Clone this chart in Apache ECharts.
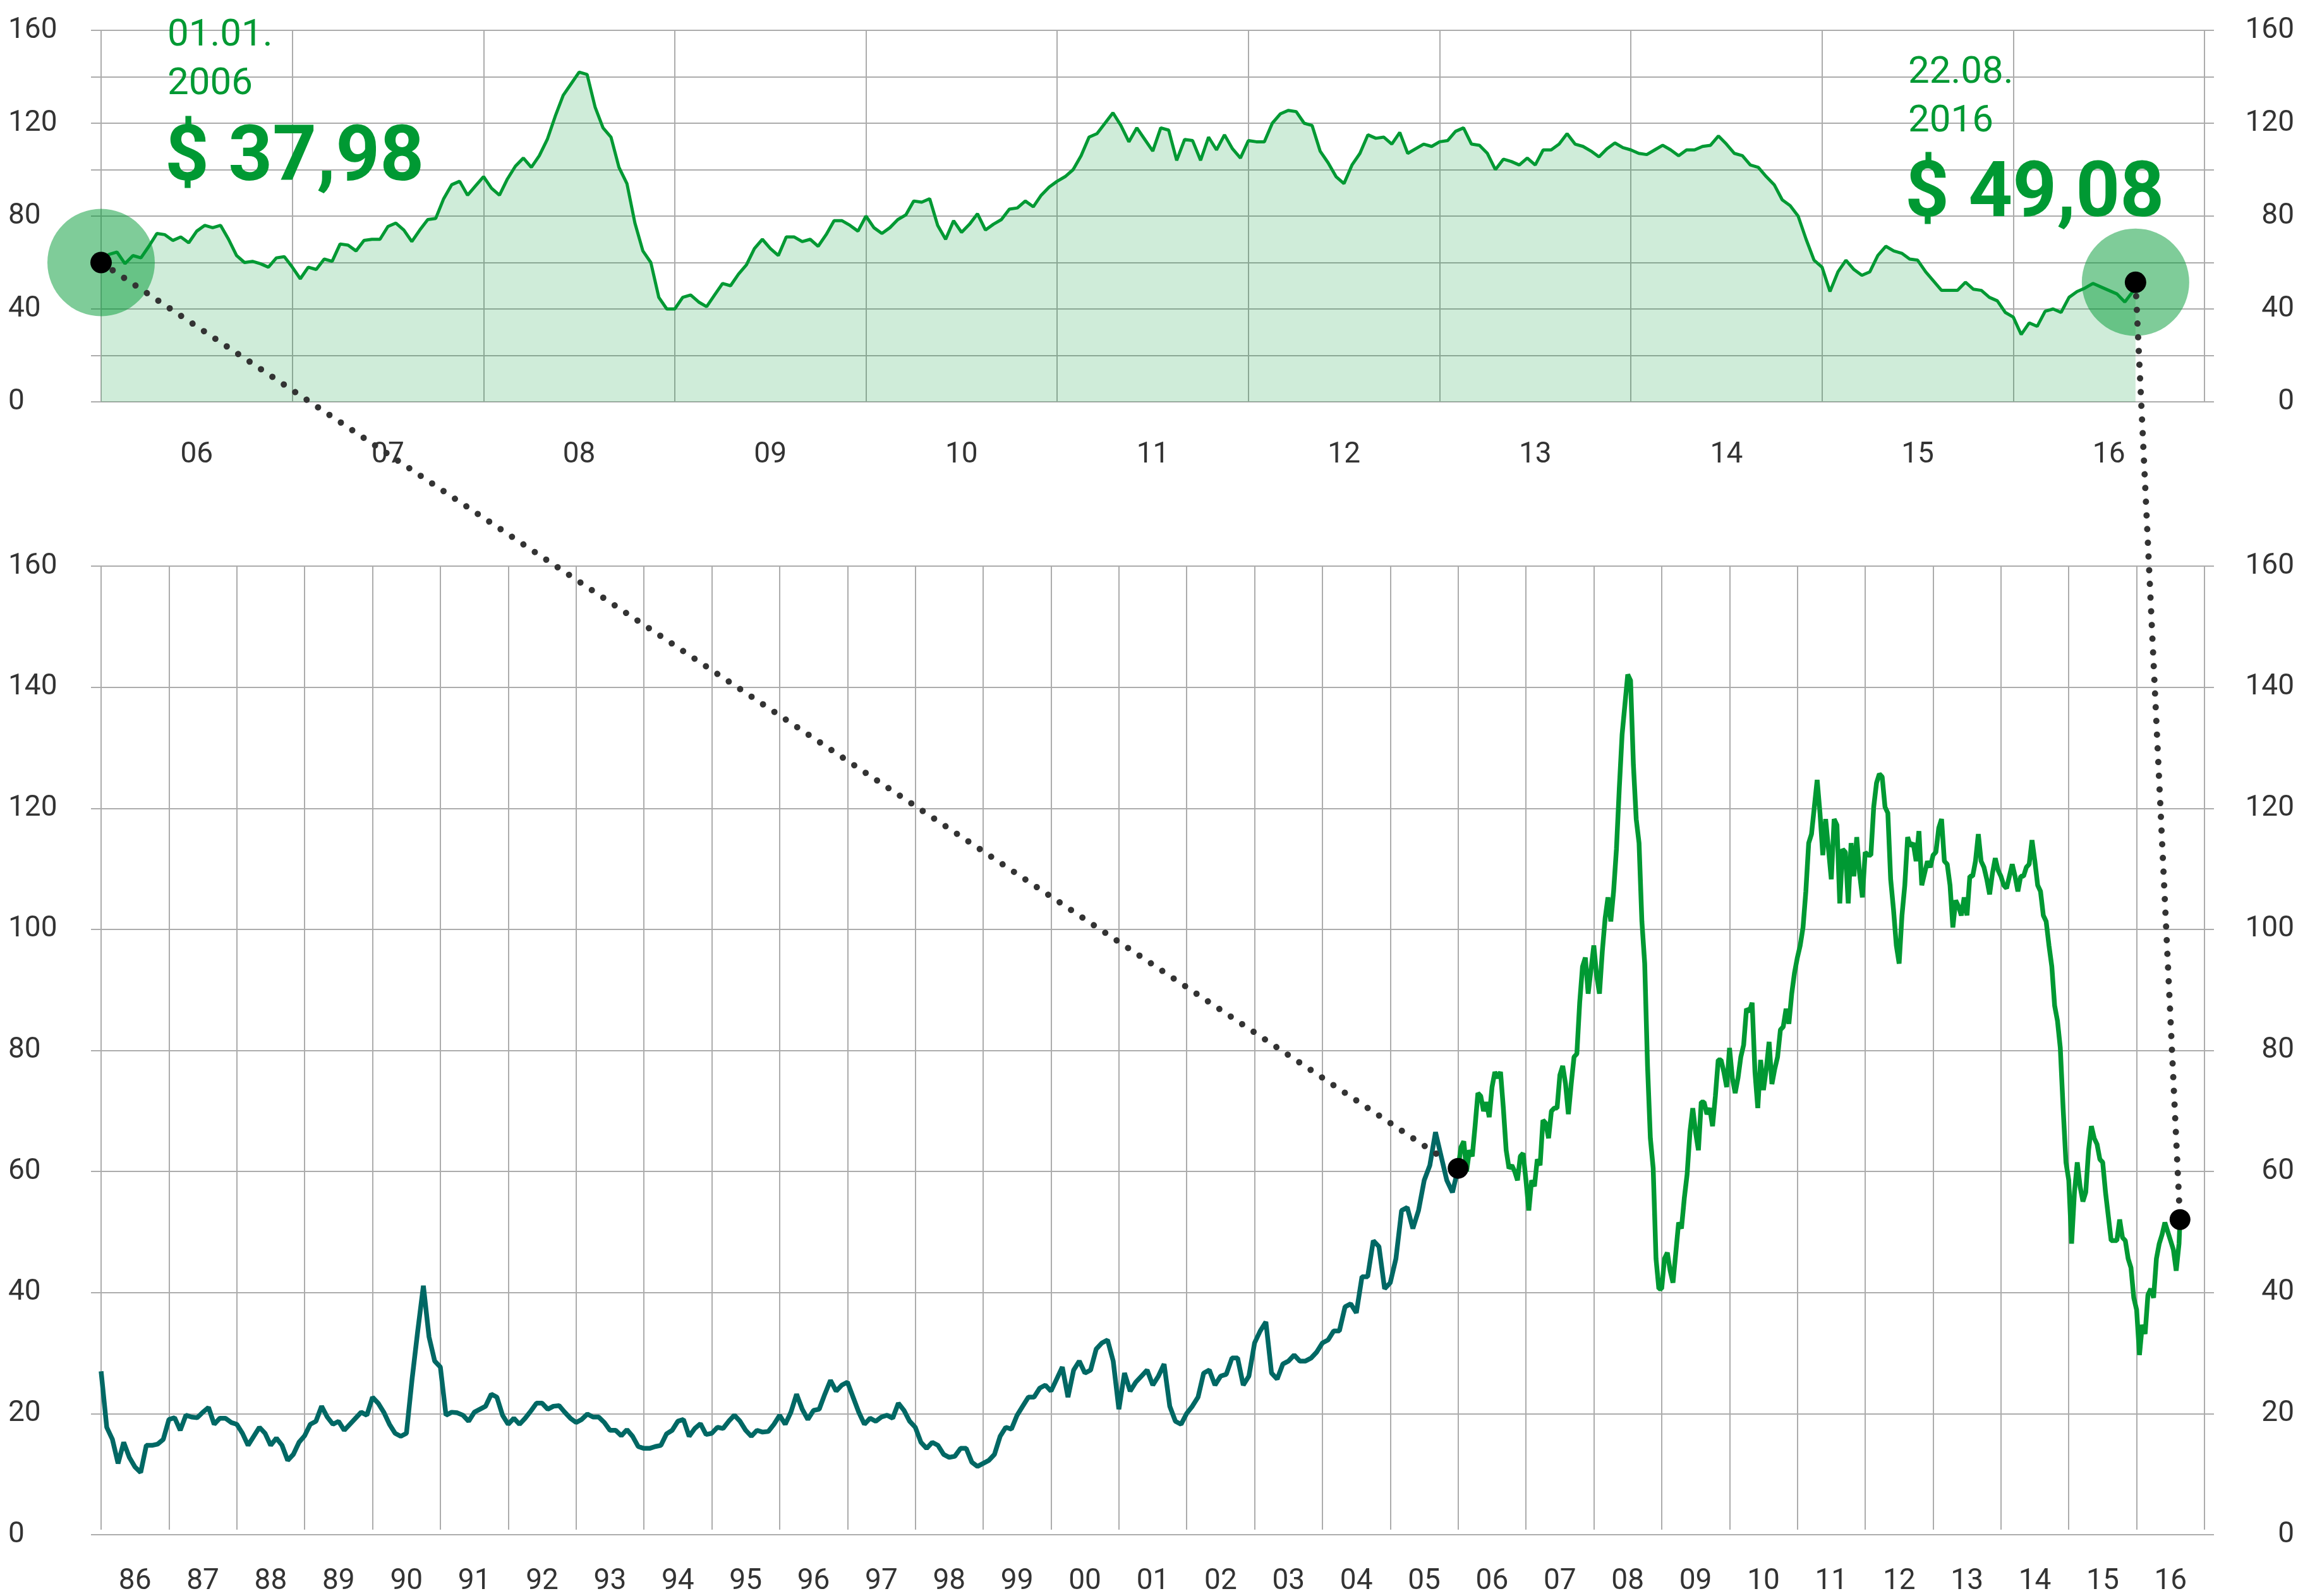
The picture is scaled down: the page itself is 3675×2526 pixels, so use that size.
<!DOCTYPE html>
<html>
<head>
<meta charset="utf-8">
<script src="https://cdn.jsdelivr.net/npm/echarts@6/dist/echarts.min.js"></script>
<style>
html, body { margin: 0; padding: 0; background: #fff; }
#chart { width: 3675px; height: 2526px; }
</style>
</head>
<body>
<div id="chart"></div>
<script>
// tick labels
var topYears = ['06','07','08','09','10','11','12','13','14','15','16'];
var bottomYears = ['86','87','88','89','90','91','92','93','94','95','96','97','98','99','00','01','02','03','04','05','06','07','08','09','10','11','12','13','14','15','16'];
var topTicks = [0, 40, 80, 120, 160];

// annotated dates / prices
var startDate = '01.01.2006', startPrice = '$ 37,98';
var endDate = '22.08.2016', endPrice = '$ 49,08';

// oil price, start of each month 1986-2005 (teal part)
var oil1986 = [26.3, 17, 15, 11, 14.5, 12, 10.4, 9.5, 14, 14, 14.2, 15];
var oil1987 = [18.3, 18.6, 16.5, 19, 18.7, 18.6, 19.5, 20.3, 17.5, 18.5, 18.5, 17.8];
var oil1988 = [17.5, 16, 14, 15.5, 17, 16, 14, 15.2, 14, 11.5, 12.5, 14.5];
var oil1989 = [15.6, 17.5, 18, 20.5, 18.7, 17.5, 18, 16.5, 17.5, 18.5, 19.5, 19];
var oil1990 = [22, 21, 19.5, 17.5, 16, 15.5, 16, 25, 33, 40.5, 32, 28];
var oil1991 = [27, 19, 19.5, 19.4, 19, 18, 19.5, 20, 20.5, 22.5, 22, 19];
var oil1992 = [17.5, 18.5, 17.5, 18.5, 19.7, 21, 21, 20, 20.5, 20.6, 19.5, 18.5];
var oil1993 = [17.8, 18.3, 19.2, 18.7, 18.7, 17.8, 16.5, 16.5, 15.6, 16.6, 15.5, 13.8];
var oil1994 = [13.5, 13.5, 13.8, 14, 15.9, 16.5, 18, 18.3, 15.5, 16.8, 17.6, 15.8];
var oil1995 = [16, 17, 16.8, 18, 19, 18, 16.5, 15.5, 16.5, 16.2, 16.3, 17.5];
var oil1996 = [19, 17.5, 19.5, 22.5, 20, 18.3, 19.8, 20, 22.5, 24.8, 23, 24];
var oil1997 = [24.5, 22, 19.5, 17.5, 18.5, 18, 18.7, 19, 18.5, 21, 19.8, 18];
var oil1998 = [17, 14.5, 13.5, 14.5, 14, 12.5, 12, 12.2, 13.5, 13.5, 11.2, 10.5];
var oil1999 = [11, 11.5, 12.5, 15.5, 17, 16.7, 19, 20.5, 22, 22, 23.5, 24];
var oil2000 = [23, 25, 27, 22, 26.5, 28, 26, 26.5, 30, 31, 31.5, 28];
var oil2001 = [20, 26, 23, 24.5, 25.5, 26.5, 24, 25.5, 27.5, 20.5, 18, 17.5];
var oil2002 = [19.3, 20.5, 22, 26, 26.5, 24, 25.5, 25.8, 28.5, 28.5, 24, 25.5];
var oil2003 = [31, 33, 34.5, 26, 25, 27.5, 28, 29, 28, 28, 28.5, 29.5];
var oil2004 = [31, 31.5, 33, 33, 37, 37.5, 36, 42, 42, 48, 47, 40];
var oil2005 = [41, 45, 53, 53.5, 50, 53, 58, 60.5, 66, 62, 58, 56];

// oil price, 1st and 15th of each month 2006-2016 (green part)
var oil2006 = [60, 63.5, 64.5, 59.5, 63, 62, 67, 72.5, 72, 69.5, 71, 68.5, 73.5, 76, 75, 76, 70, 63, 60, 60.5, 59.5, 58, 62, 62.5];
var oil2007 = [58, 53, 58, 57, 61.5, 60.5, 68, 67.5, 65, 69.5, 70, 70, 75.5, 77, 74, 69, 74, 78.5, 79, 87.5, 93.5, 95, 89, 93];
var oil2008 = [97, 92, 89, 96, 101.5, 105, 101, 106, 113, 123, 132, 137, 142, 141, 127, 118, 114, 101, 94, 77, 65, 60, 45, 40];
var oil2009 = [40, 45, 46, 43, 41, 46, 51, 50, 55, 59, 66, 70, 66, 63, 71, 71, 69, 70, 67, 72, 78, 78, 76, 73.5];
var oil2010 = [80, 75, 72.5, 75, 78.5, 80.5, 86.5, 86, 87.5, 76, 70, 78, 73, 76.5, 81, 74, 76.5, 78.5, 83, 83.5, 86.5, 84, 89, 92.5];
var oil2011 = [95, 97, 100, 106, 114, 115.5, 120, 124.5, 119, 112, 118, 113, 108, 118, 117, 104, 113, 112.5, 104, 114, 108.5, 115, 109, 105];
var oil2012 = [112.5, 112, 112, 120, 124, 125.5, 125, 120, 119, 108, 103, 97, 94, 102, 107, 115, 113.5, 114, 111, 116, 107, 109, 111, 110];
var oil2013 = [112, 112.5, 116.5, 118, 111, 110.5, 107, 100, 104.5, 103.5, 102, 105, 102, 108.5, 108.5, 111, 115.5, 111, 110, 108, 105.5, 109, 111.5, 109.5];
var oil2014 = [108.5, 107, 106.5, 108.5, 110.5, 108.5, 106, 108.5, 108.5, 110, 110.5, 114.5, 111, 107, 106, 102, 101, 97, 93.5, 87, 84.5, 80, 70, 61];
var oil2015 = [58, 47.5, 56, 61, 57, 54.5, 56, 63, 67, 65, 64, 61.5, 61, 56, 52, 48, 48, 48, 51.5, 48.5, 48, 45, 43.5, 38.5];
var oil2016 = [36.5, 29, 34, 32.5, 39, 40, 38.5, 45, 47.5, 49, 51, 49.5, 48, 46.5, 43, 47.5];
var lastPrice = 51.5; // 22.08.2016

function toYear(d) { // 'dd.mm.yyyy' -> decimal year
	var p = d.split('.');
	var y = +p[2];
	var t0 = Date.UTC(y, 0, 1), t1 = Date.UTC(y + 1, 0, 1);
	return y + (Date.UTC(y, +p[1] - 1, +p[0]) - t0) / (t1 - t0);
}

var tealVals = [].concat(oil1986, oil1987, oil1988, oil1989, oil1990, oil1991, oil1992, oil1993, oil1994, oil1995,
	oil1996, oil1997, oil1998, oil1999, oil2000, oil2001, oil2002, oil2003, oil2004, oil2005);
var greenVals = [].concat(oil2006, oil2007, oil2008, oil2009, oil2010, oil2011, oil2012, oil2013, oil2014, oil2015, oil2016);

var startYear = toYear(startDate), endYear = toYear(endDate);
var tealPts = tealVals.map(function (v, i) { return [1986 + i / 12, v]; });
var greenPts = greenVals.map(function (v, i) { return [startYear + i / 24, v]; });
greenPts.push([endYear, lastPrice]);
tealPts.push(greenPts[0]); // join to green
var marks = [greenPts[0], greenPts[greenPts.length - 1]];

var green = '#009933';
var gridLine = { color: '#acacac', width: 2 };
var lbl = { fontFamily: 'Roboto', fontSize: 46, color: '#333' };

function yLabel(side, fmt) {
	return {
		fontFamily: lbl.fontFamily, fontSize: lbl.fontSize, color: lbl.color,
		align: side == 'left' ? 'left' : 'right',
		margin: side == 'left' ? 131 : 127,
		padding: [8, 0, 0, 0],
		formatter: fmt
	};
}
var topFmt = function (v) { return topTicks.indexOf(v) >= 0 ? String(v) : ''; };
var botFmt = function (v) { return String(v); };

function labelAxis(grid, side, fmt, split) {
	return {
		gridIndex: grid, type: 'value', position: side, min: 0, max: 160, interval: 20,
		axisLine: { show: false }, axisTick: { show: false },
		splitLine: { show: split, lineStyle: gridLine },
		axisLabel: yLabel(side, fmt)
	};
}
function yearAxis(grid, cats, margin) {
	return {
		gridIndex: grid, type: 'category', data: cats, boundaryGap: true, position: 'bottom',
		axisLine: { show: false }, axisTick: { show: false },
		axisLabel: { interval: 0, margin: margin, verticalAlign: 'middle', fontFamily: lbl.fontFamily, fontSize: lbl.fontSize, color: lbl.color },
		splitLine: { show: true, interval: 0, lineStyle: gridLine }
	};
}

var chart = echarts.init(document.getElementById('chart'));
var option = {
	animation: false,
	backgroundColor: '#fff',
	textStyle: { fontFamily: 'Roboto' },
	grid: [
		{ left: 144, right: 171, top: 48, height: 588 },
		{ left: 160, right: 186, top: 48, height: 588 },
		{ left: 144, right: 171, top: 896, height: 1533 },
		{ left: 160, right: 186, top: 896, height: 1533 }
	],
	xAxis: [
		{ gridIndex: 0, type: 'value', show: false },
		yearAxis(1, topYears, 84),
		{ gridIndex: 1, type: 'value', min: 2006, max: 2017, show: false },
		{ gridIndex: 2, type: 'value', show: false },
		yearAxis(3, bottomYears, 82),
		{ gridIndex: 3, type: 'value', min: 1986, max: 2017, show: false }
	],
	yAxis: [
		labelAxis(0, 'left', topFmt, true),
		labelAxis(0, 'right', topFmt, false),
		{ gridIndex: 1, type: 'value', min: 0, max: 160, show: false },
		labelAxis(2, 'left', botFmt, true),
		labelAxis(2, 'right', botFmt, false),
		{ gridIndex: 3, type: 'value', min: 0, max: 160, show: false }
	],
	series: [
		{
			type: 'line', xAxisIndex: 2, yAxisIndex: 2, data: greenPts, symbol: 'none',
			lineStyle: { color: green, width: 5 },
			areaStyle: { color: 'rgba(0,153,51,0.19)', opacity: 1 }, z: 2
		},
		{
			type: 'scatter', xAxisIndex: 2, yAxisIndex: 2, data: marks, symbolSize: 170, clip: false,
			itemStyle: { color: 'rgba(0,153,51,0.5)', opacity: 1 }, z: 3
		},
		{
			type: 'scatter', xAxisIndex: 2, yAxisIndex: 2, data: marks, symbolSize: 34, clip: false,
			itemStyle: { color: '#000', opacity: 1 }, z: 8
		},
		{
			type: 'line', xAxisIndex: 5, yAxisIndex: 5, data: tealPts, symbol: 'none',
			lineStyle: { color: '#006864', width: 7.5 }, z: 2
		},
		{
			type: 'line', xAxisIndex: 5, yAxisIndex: 5, data: greenPts, symbol: 'none',
			lineStyle: { color: green, width: 7.5 }, z: 2
		},
		{
			type: 'scatter', xAxisIndex: 5, yAxisIndex: 5, data: marks, symbolSize: 33, clip: false,
			itemStyle: { color: '#000', opacity: 1 }, z: 8
		}
	]
};
chart.setOption(option);

// dotted connectors from the zoomed chart to the long chart, starting just outside the dots
var dotStyle = { stroke: '#333', lineWidth: 10, lineDash: [0.01, 21.7], lineCap: 'round' };
function connector(p, q) {
	var dx = q[0] - p[0], dy = q[1] - p[1], len = Math.sqrt(dx * dx + dy * dy);
	var ux = dx / len, uy = dy / len, r = 22;
	return {
		type: 'line', z: 5, silent: true,
		shape: { x1: p[0] + ux * r, y1: p[1] + uy * r, x2: q[0] - ux * r, y2: q[1] - uy * r },
		style: dotStyle
	};
}
var a1 = chart.convertToPixel({ seriesIndex: 0 }, marks[0]);
var a2 = chart.convertToPixel({ seriesIndex: 4 }, marks[0]);
var b1 = chart.convertToPixel({ seriesIndex: 0 }, marks[1]);
var b2 = chart.convertToPixel({ seriesIndex: 4 }, marks[1]);

function note(x, y, text, size, bold) {
	return {
		type: 'text', x: x, y: y, z: 9, silent: true,
		style: { text: text, fill: green, fontFamily: 'Roboto', fontSize: size, fontWeight: bold ? 'bold' : 'normal', align: 'left', verticalAlign: 'middle' }
	};
}
var sd = startDate.split('.'), ed = endDate.split('.');
chart.setOption({
	graphic: [
		connector(a1, a2),
		connector(b1, b2),
		note(265, 57, sd[0] + '.' + sd[1] + '.', 60),
		note(265, 134, sd[2], 60),
		note(261, 254, startPrice, 122, true),
		note(3020, 116, ed[0] + '.' + ed[1] + '.', 60),
		note(3020, 193, ed[2], 60),
		note(3015, 311, endPrice, 122, true)
	]
});
</script>
</body>
</html>
